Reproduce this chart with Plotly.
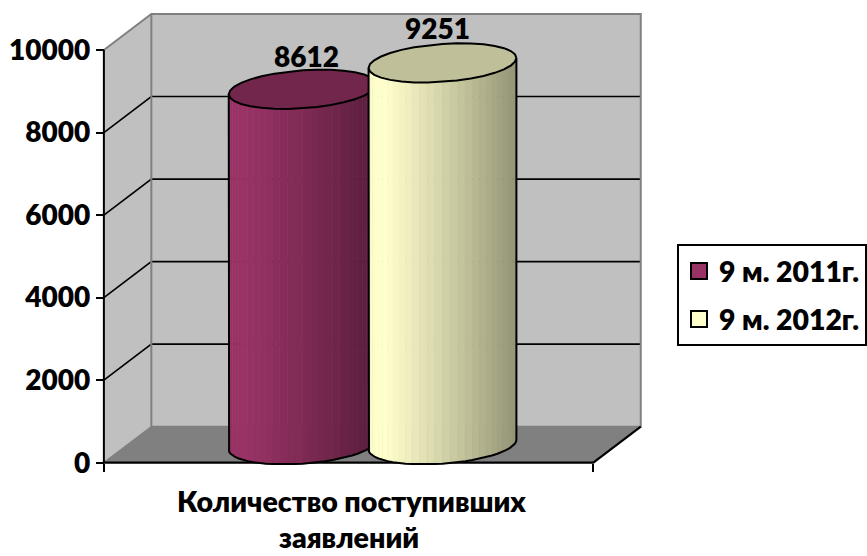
import numpy as np
import plotly.graph_objects as go

# ---- data ----
series_names = ["9 м. 2011г.", "9 м. 2012г."]
series_values = [8612, 9251]
series_colors = [(153, 51, 102), (255, 255, 204)]
category_lines = ["Количество поступивших", "заявлений"]
y_ticks = [0, 2000, 4000, 6000, 8000, 10000]
y_tick_labels = ["0", "2000", "4000", "6000", "8000", "10000"]

# ---- oblique projection settings (in axis units) ----
W, H = 867, 556
PX_X = 490.0            # px per x unit
PX_Y = 0.04127          # px per value unit
X0_PX, Y0_PX = 104, 462.7
DEPTH_X = 47.5 / PX_X
DEPTH_Y = 36 / PX_Y
CENTERS = [199 / PX_X, 339 / PX_X]
RX = 74 / PX_X
RY = 19 / PX_Y
TILT = 5 / PX_Y
FONT = "Lato"
WALL, FLOOR, EDGE = "#C0C0C0", "#808080", "#808080"
SHADE_U = [0, 0.12, 0.5, 0.8, 1]
SHADE_F = [1, 1, 0.83, 0.68, 0.58]
TOP_SHADE = 0.75
N = 15

fig = go.Figure()


def poly(xs, ys, fill=None, line=None, width=0):
    fig.add_trace(go.Scatter(
        x=list(xs), y=list(ys), mode="lines",
        fill="toself" if fill else None, fillcolor=fill,
        line=dict(color=line or fill or "black", width=width),
        showlegend=False, hoverinfo="skip"))


ymax = y_ticks[-1]
# walls and floor
poly([0, DEPTH_X, DEPTH_X, 0, 0], [0, DEPTH_Y, ymax + DEPTH_Y, ymax, 0], WALL)
poly([DEPTH_X, 1 + DEPTH_X, 1 + DEPTH_X, DEPTH_X, DEPTH_X],
     [DEPTH_Y, DEPTH_Y, ymax + DEPTH_Y, ymax + DEPTH_Y, DEPTH_Y], WALL)
poly([0, 1, 1 + DEPTH_X, DEPTH_X, 0], [0, 0, DEPTH_Y, DEPTH_Y, 0], FLOOR)
# gridlines
for v in y_ticks[1:-1]:
    poly([0, DEPTH_X, 1 + DEPTH_X], [v, v + DEPTH_Y, v + DEPTH_Y], line="black", width=1.6)
# grey frame edges
poly([0, DEPTH_X, 1 + DEPTH_X, 1 + DEPTH_X, DEPTH_X],
     [ymax, ymax + DEPTH_Y, ymax + DEPTH_Y, DEPTH_Y, DEPTH_Y], line=EDGE, width=2)
poly([DEPTH_X, DEPTH_X], [ymax + DEPTH_Y, DEPTH_Y], line=EDGE, width=2)
poly([0, DEPTH_X, 1 + DEPTH_X], [0, DEPTH_Y, DEPTH_Y], line=EDGE, width=1.5)
# front axis edges
poly([0, 0], [0, ymax], line="black", width=2)
poly([0, 1, 1 + DEPTH_X], [0, 0, DEPTH_Y], line="black", width=2.2)


def rgb(c, f):
    return "rgb({},{},{})".format(*[int(round(v * f)) for v in c])


# cylinders
for cx, value, col in zip(CENTERS, series_values, series_colors):
    t = np.linspace(np.pi, 0, N * 2 + 1)
    ex = cx + RX * np.cos(t)
    offs = TILT * np.cos(t) - RY * np.sin(t) + DEPTH_Y / 2
    for i in range(len(t) - 1):
        u = (ex[i] + ex[i + 1] - 2 * (cx - RX)) / (4 * RX)
        f = float(np.interp(u, SHADE_U, SHADE_F))
        c = rgb(col, f)
        poly([ex[i], ex[i + 1], ex[i + 1], ex[i], ex[i]],
             [offs[i], offs[i + 1], value + offs[i + 1], value + offs[i], offs[i]],
             c, line=c, width=0.6)
    # outline of body
    poly([ex[0]] + list(ex) + [ex[-1]],
         [value + offs[0]] + list(offs) + [value + offs[-1]], line="black", width=2)
    # top ellipse
    a = np.linspace(0, 2 * np.pi, N * 2 + 3)
    poly(cx + RX * np.cos(a),
         value + DEPTH_Y / 2 + TILT * np.cos(a) + RY * np.sin(a),
         rgb(col, TOP_SHADE), line="black", width=2)

# legend entries
for name, col in zip(series_names, series_colors):
    fig.add_trace(go.Scatter(
        x=[None], y=[None], mode="markers", name=name, legendgroup=name,
        marker=dict(symbol="square", size=16, color=rgb(col, 1),
                    line=dict(color="black", width=2))))

# value labels
for cx, value, xs, ys in zip(CENTERS, series_values, [4, -5], [33, 35]):
    fig.add_annotation(x=cx, y=value + DEPTH_Y / 2, text=str(value), showarrow=False,
                       xshift=xs, yshift=ys, font=dict(family=FONT, size=28, weight=800, color="black"))
# category label
for line, ys, xs in zip(category_lines, [-38, -74.5], [0, -2]):
    fig.add_annotation(x=0.505, y=0, text=line, showarrow=False, yshift=ys, xshift=xs,
                       font=dict(family=FONT, size=28.6, weight=800, color="black"))

fig.update_layout(
    width=W, height=H, margin=dict(l=0, r=0, t=0, b=0),
    autosize=False,
    paper_bgcolor="white", plot_bgcolor="white",
    xaxis=dict(range=[-X0_PX / PX_X, (W - X0_PX) / PX_X], domain=[0, 1],
               tickvals=[0, 1], ticktext=["", ""], ticks="outside", ticklen=8,
               tickwidth=2, tickcolor="black", showgrid=False, zeroline=False,
               showline=False, anchor="free", position=(H - Y0_PX) / H),
    yaxis=dict(range=[-(H - Y0_PX) / PX_Y, Y0_PX / PX_Y], domain=[0, 1],
               tickvals=y_ticks, ticktext=y_tick_labels, ticks="outside", ticklen=8,
               tickwidth=2, tickcolor="black",
               tickfont=dict(family=FONT, size=28, weight=800, color="black"),
               showgrid=False, zeroline=False, showline=False,
               anchor="free", position=X0_PX / W),
    legend=dict(x=678 / W, xanchor="left", y=1 - 244 / H, yanchor="top",
                bordercolor="black", borderwidth=2, bgcolor="white",
                font=dict(family=FONT, size=28.4, weight=800, color="black"),
                tracegroupgap=8),
)
fig.write_html("out.html", config=dict(displayModeBar=False),
               post_script="document.body.style.margin='0';document.body.style.overflow='hidden';")
